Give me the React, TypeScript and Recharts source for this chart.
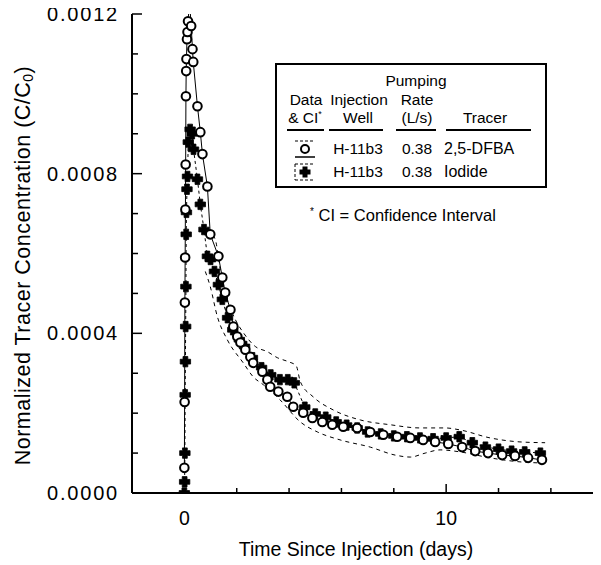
import React from 'react';
import { ComposedChart, Line, XAxis, YAxis, Legend, Label } from 'recharts';

const FONT = '"Liberation Sans", Arial, Helvetica, sans-serif';

// 2,5-DFBA (open circles)
const dfbaTime = [
  0.0, 0.01, 0.02, 0.03, 0.04, 0.05, 0.06, 0.07, 0.08, 0.1, 0.12, 0.14, 0.2, 0.26, 0.31, 0.34, 0.5, 0.61, 0.69,
  0.88, 0.99, 1.3, 1.45, 1.56, 1.76, 1.87, 2.02, 2.14, 2.33, 2.52, 2.63, 2.98, 3.17, 3.28, 3.59, 3.93, 4.16,
  4.54, 4.89, 5.27, 5.65, 6.07, 6.6, 7.1, 7.6, 8.13, 8.63, 9.12, 9.58, 10.08, 10.61, 11.11, 11.6, 12.14, 12.63,
  13.13, 13.66,
];
const dfbaConc = [
  0.000063, 0.000228, 0.000477, 0.00059, 0.00071, 0.000823, 0.000994, 0.001057, 0.001087, 0.001137, 0.001155,
  0.001182, 0.00123, 0.00117, 0.001112, 0.00108, 0.000969, 0.000904, 0.000849, 0.000768, 0.000648, 0.000593,
  0.00054, 0.000502, 0.000459, 0.000417, 0.000392, 0.000377, 0.000359, 0.000341, 0.000326, 0.000304, 0.000284,
  0.000266, 0.000254, 0.000241, 0.000216, 0.000201, 0.000188, 0.000178, 0.000171, 0.000166, 0.000163, 0.000153,
  0.000146, 0.000141, 0.000138, 0.000133, 0.000128, 0.000123, 0.000115, 0.000105, 0.0001, 0.000095, 0.000093,
  0.000088, 0.000083,
];

// Iodide (filled crosses)
const iodideTime = [
  0.0, 0.01, 0.02, 0.03, 0.04, 0.05, 0.06, 0.07, 0.08, 0.1, 0.12, 0.15, 0.22, 0.3, 0.35, 0.5, 0.61, 0.75, 0.88,
  1.0, 1.15, 1.3, 1.45, 1.65, 1.85, 2.1, 2.3, 2.6, 2.95, 3.3, 3.65, 3.95, 4.2, 4.6, 5.0, 5.4, 5.8, 6.2, 6.6,
  7.0, 7.5, 8.0, 8.5, 9.0, 9.5, 10.0, 10.5, 11.0, 11.5, 12.0, 12.5, 13.0, 13.6,
];
const iodideConc = [
  0.0, 0.000028, 0.0001, 0.000246, 0.000329, 0.000417, 0.000517, 0.000648, 0.000703, 0.000761, 0.000793,
  0.000879, 0.000911, 0.0009, 0.000861, 0.000786, 0.000723, 0.00066, 0.000593, 0.000585, 0.000555, 0.000522,
  0.000485, 0.000439, 0.000409, 0.000384, 0.000367, 0.000339, 0.000314, 0.000296, 0.000284, 0.000284,
  0.000276, 0.000215, 0.000198, 0.00019, 0.000178, 0.00017, 0.000163, 0.000153, 0.000148, 0.000143, 0.000141,
  0.000138, 0.000136, 0.000138, 0.000141, 0.000126, 0.000115, 0.00011, 0.000105, 0.000103, 0.0001,
];

// Confidence interval bounds
const ciUpperTime = [0.88, 1.18, 1.37, 1.64, 1.95, 2.25, 2.71, 3.17, 3.55, 3.97, 4.27, 4.43, 4.92, 5.69, 6.72, 7.86, 9.0, 9.96, 10.53, 11.68, 12.82, 13.78];
const ciUpperConc = [0.00066, 0.000635, 0.00056, 0.000485, 0.000434, 0.000402, 0.000367, 0.000354, 0.000339, 0.000329, 0.000319, 0.000279, 0.000241, 0.000208, 0.000183, 0.000171, 0.000163, 0.000163, 0.000158, 0.000138, 0.000128, 0.000126];
const ciLowerTime = [0.8, 0.99, 1.26, 1.64, 2.25, 2.63, 3.02, 3.66, 4.43, 5.08, 5.95, 7.1, 8.05, 8.63, 9.2, 9.77, 10.53, 11.68, 12.82, 13.78];
const ciLowerConc = [0.000555, 0.000517, 0.000442, 0.000384, 0.000326, 0.000291, 0.000271, 0.000233, 0.000178, 0.000153, 0.000133, 0.000115, 0.000095, 0.00009, 0.0001, 0.000108, 0.000103, 0.000088, 0.000078, 0.000075];

const xTicks = [0, 2, 4, 6, 8, 10, 12, 14];
const xLabelTicks = [0, 10];
const yTicks = [0, 0.0001, 0.0002, 0.0003, 0.0004, 0.0005, 0.0006, 0.0007, 0.0008, 0.0009, 0.001, 0.0011, 0.0012];
const yLabelTicks = [0, 0.0004, 0.0008, 0.0012];

const seriesNames = ['2,5-DFBA', 'Iodide'];
const injectionWells = ['H-11b3', 'H-11b3'];
const pumpingRates = ['0.38', '0.38'];

const toRows = (ts: number[], vs: number[]) => ts.map((t, i) => ({ t, v: vs[i] }));
const dfbaData = toRows(dfbaTime, dfbaConc);
const iodideData = toRows(iodideTime, iodideConc);
const ciUpperData = toRows(ciUpperTime, ciUpperConc);
const ciLowerData = toRows(ciLowerTime, ciLowerConc);

const isIn = (arr: number[], v: number) => arr.some((a) => Math.abs(a - v) < 1e-9);

const BottomTick = (props: any) => {
  const { x, y, payload } = props;
  const lab = isIn(xLabelTicks, payload.value);
  const len = payload.value === 10 ? 9 : 5;
  return (
    <g>
      <line x1={x} x2={x} y1={y} y2={y - len} stroke="#000" strokeWidth={1.5} />
      {lab && (
        <text x={x} y={y + 25} textAnchor="middle" dominantBaseline="central" fontSize={19.5} fontFamily={FONT} fill="#000">
          {payload.value}
        </text>
      )}
    </g>
  );
};

const TopTick = (props: any) => {
  const { x, y, payload } = props;
  const len = payload.value === 10 ? 9 : 5;
  return <line x1={x} x2={x} y1={y} y2={y + len} stroke="#000" strokeWidth={1.5} />;
};

const LeftTick = (props: any) => {
  const { x, y, payload } = props;
  const lab = isIn(yLabelTicks, payload.value);
  const len = lab ? 10 : 6;
  return (
    <g>
      <line x1={x} x2={x + len} y1={y} y2={y} stroke="#000" strokeWidth={1.5} />
      {lab && (
        <text x={x - 13} y={y} textAnchor="end" dominantBaseline="central" fontSize={20} letterSpacing={1.8} fontFamily={FONT} fill="#000">
          {payload.value.toFixed(4)}
        </text>
      )}
    </g>
  );
};

const RightTick = (props: any) => {
  const { x, y, payload } = props;
  const len = isIn(yLabelTicks, payload.value) ? 10 : 6;
  return <line x1={x} x2={x - len} y1={y} y2={y} stroke="#000" strokeWidth={1.5} />;
};

const YLabel = (props: any) => {
  const vb = props.viewBox || { x: 0, y: 0, width: 0, height: 0 };
  const cx = vb.x + 23;
  const cy = vb.y + vb.height / 2 + 12;
  return (
    <text x={cx} y={cy} transform={`rotate(-90 ${cx} ${cy})`} textAnchor="middle" dominantBaseline="central" fontSize={21.5} letterSpacing={0.5} fontFamily={FONT} fill="#000">
      Normalized Tracer Concentration (C/C<tspan fontSize={14} dy={5}>0</tspan><tspan dy={-5}>)</tspan>
    </text>
  );
};

const XLabel = (props: any) => {
  const vb = props.viewBox || { x: 0, y: 0, width: 0, height: 0 };
  return (
    <text x={vb.x + vb.width / 2 - 9} y={vb.y + 56} textAnchor="middle" dominantBaseline="central" fontSize={19.5} fontFamily={FONT} fill="#000">
      Time Since Injection (days)
    </text>
  );
};

const CircleDot = (props: any) => {
  const { cx, cy, index } = props;
  if (cx == null || cy == null) return <g key={`c-${index}`} />;
  return <circle key={`c-${index}`} cx={cx} cy={cy} r={4.3} fill="#fff" stroke="#000" strokeWidth={2} />;
};

const crossPath = (cx: number, cy: number, a: number, w: number) =>
  `M${cx - a},${cy - w} H${cx - w} V${cy - a} H${cx + w} V${cy - w} H${cx + a} V${cy + w} H${cx + w} V${cy + a} H${cx - w} V${cy + w} H${cx - a} Z`;

const CrossDot = (props: any) => {
  const { cx, cy, index } = props;
  if (cx == null || cy == null) return <g key={`x-${index}`} />;
  return <path key={`x-${index}`} d={crossPath(cx, cy, 5.2, 2.4)} fill="#000" stroke="#000" strokeWidth={0.8} />;
};

const LegendSymbol = ({ kind }: { kind: string }) => (
  <svg width={26} height={22} style={{ display: 'block' }}>
    <line x1={3} x2={23} y1={3} y2={3} stroke="#000" strokeWidth={1} strokeDasharray="3 2" />
    {kind === 'circle' ? (
      <>
        <line x1={3} x2={23} y1={19} y2={19} stroke="#000" strokeWidth={1.5} />
        <circle cx={13} cy={11} r={4} fill="#fff" stroke="#000" strokeWidth={2} />
      </>
    ) : (
      <>
        <line x1={3} x2={23} y1={19} y2={19} stroke="#000" strokeWidth={1} strokeDasharray="3 2" />
        <line x1={3} x2={3} y1={3} y2={19} stroke="#000" strokeWidth={1} strokeDasharray="3 2" />
        <path d={crossPath(13, 11, 5.5, 2.5)} fill="#000" />
      </>
    )}
  </svg>
);

const LegendBox = (props: any) => {
  const payload = (props.payload || []).filter((p: any) => seriesNames.includes(p.value));
  payload.sort((a: any, b: any) => seriesNames.indexOf(a.value) - seriesNames.indexOf(b.value));
  const txt: React.CSSProperties = { position: 'absolute', fontFamily: FONT, fontSize: 15.5, color: '#000', whiteSpace: 'nowrap', lineHeight: '14px' };
  const c = (x: number, y: number, s: string, key: string) => (
    <div key={key} style={{ ...txt, left: x - 60, width: 120, top: y - 7, textAlign: 'center' }}>{s}</div>
  );
  const rule = (x1: number, x2: number, key: string) => (
    <div key={key} style={{ position: 'absolute', left: x1, width: x2 - x1, top: 64, height: 2, background: '#000' }} />
  );
  const r0 = 16;
  const r1 = 34.5;
  const r2 = 53;
  return (
    <div style={{ position: 'relative', width: 330, height: 180 }}>
      <div style={{ position: 'absolute', left: 0, top: 0, width: 268, height: 121, border: '2px solid #000' }}>
        {c(139, r0, 'Pumping', 'h0')}
        {c(29, r1, 'Data', 'h1')}
        {c(82, r1, 'Injection', 'h2')}
        {c(140, r1, 'Rate', 'h3')}
        <div style={{ ...txt, left: -32, width: 120, top: r2 - 7, textAlign: 'center' }}>
          &amp; CI<sup style={{ fontSize: 9, lineHeight: '0' }}>*</sup>
        </div>
        {c(81, r2, 'Well', 'h5')}
        {c(140, r2, '(L/s)', 'h6')}
        {c(208, r2, 'Tracer', 'h7')}
        {rule(10, 47, 'r1')}
        {rule(52, 106, 'r2')}
        {rule(119, 159, 'r3')}
        {rule(169, 254, 'r4')}
        {payload.map((p: any, i: number) => {
          const idx = seriesNames.indexOf(p.value);
          const y = 84 + i * 23;
          return (
            <React.Fragment key={p.value}>
              <div style={{ position: 'absolute', left: 15, top: y - 11 }}>
                <LegendSymbol kind={idx === 0 ? 'circle' : 'cross'} />
              </div>
              {c(81, y, injectionWells[idx], `w${i}`)}
              {c(140, y, pumpingRates[idx], `p${i}`)}
              <div style={{ ...txt, left: 167, top: y - 7, fontSize: 16 }}>{p.value}</div>
            </React.Fragment>
          );
        })}
      </div>
      <div style={{ ...txt, left: 35, top: 145, fontSize: 16.5 }}>
        <sup style={{ fontSize: 10, lineHeight: '0' }}>*</sup> CI = Confidence Interval
      </div>
    </div>
  );
};

export default function App() {
  return (
    <div style={{ width: 601, height: 565, marginLeft: -8, marginTop: -8, background: '#fff', overflow: 'hidden' }}>
      <ComposedChart width={601} height={565} margin={{ top: 14, right: 3, bottom: 0, left: 0 }}>
        <XAxis
          xAxisId="b"
          type="number"
          dataKey="t"
          domain={[-2, 15.8]}
          allowDataOverflow
          ticks={xTicks}
          interval={0}
          tick={BottomTick}
          tickLine={false}
          tickSize={0}
          tickMargin={0}
          height={72}
          axisLine={{ stroke: '#000', strokeWidth: 2 }}
        >
          <Label content={XLabel} />
        </XAxis>
        <XAxis
          xAxisId="top"
          orientation="top"
          type="number"
          dataKey="t"
          domain={[-2, 15.8]}
          allowDataOverflow
          ticks={xTicks}
          interval={0}
          tick={TopTick}
          tickLine={false}
          tickSize={0}
          tickMargin={0}
          height={0}
          axisLine={{ stroke: '#000', strokeWidth: 2 }}
        />
        <YAxis
          yAxisId="l"
          type="number"
          domain={[0, 0.0012]}
          allowDataOverflow
          ticks={yTicks}
          interval={0}
          tick={LeftTick}
          tickLine={false}
          tickSize={0}
          tickMargin={0}
          width={132}
          axisLine={{ stroke: '#000', strokeWidth: 2 }}
        >
          <Label content={YLabel} />
        </YAxis>
        <YAxis
          yAxisId="r"
          orientation="right"
          type="number"
          domain={[0, 0.0012]}
          allowDataOverflow
          ticks={yTicks}
          interval={0}
          tick={RightTick}
          tickLine={false}
          tickSize={0}
          tickMargin={0}
          width={0}
          axisLine={{ stroke: '#000', strokeWidth: 2 }}
        />
        <Legend
          layout="horizontal"
          verticalAlign="middle"
          align="center"
          content={LegendBox}
          wrapperStyle={{ left: 275, top: 63, width: 330, height: 180 }}
        />
        <Line xAxisId="b" yAxisId="l" data={ciUpperData} dataKey="v" name="CI upper" type="monotone" stroke="#000" strokeWidth={1} strokeDasharray="4 4" dot={false} legendType="none" isAnimationActive={false} />
        <Line xAxisId="b" yAxisId="l" data={ciLowerData} dataKey="v" name="CI lower" type="monotone" stroke="#000" strokeWidth={1} strokeDasharray="4 4" dot={false} legendType="none" isAnimationActive={false} />
        <Line xAxisId="b" yAxisId="l" data={iodideData} dataKey="v" name="Iodide" type="linear" stroke="#000" strokeWidth={1} strokeDasharray="3 3" dot={CrossDot} activeDot={false} isAnimationActive={false} />
        <Line xAxisId="b" yAxisId="l" data={dfbaData} dataKey="v" name="2,5-DFBA" type="linear" stroke="#000" strokeWidth={1} dot={CircleDot} activeDot={false} isAnimationActive={false} />
      </ComposedChart>
    </div>
  );
}
